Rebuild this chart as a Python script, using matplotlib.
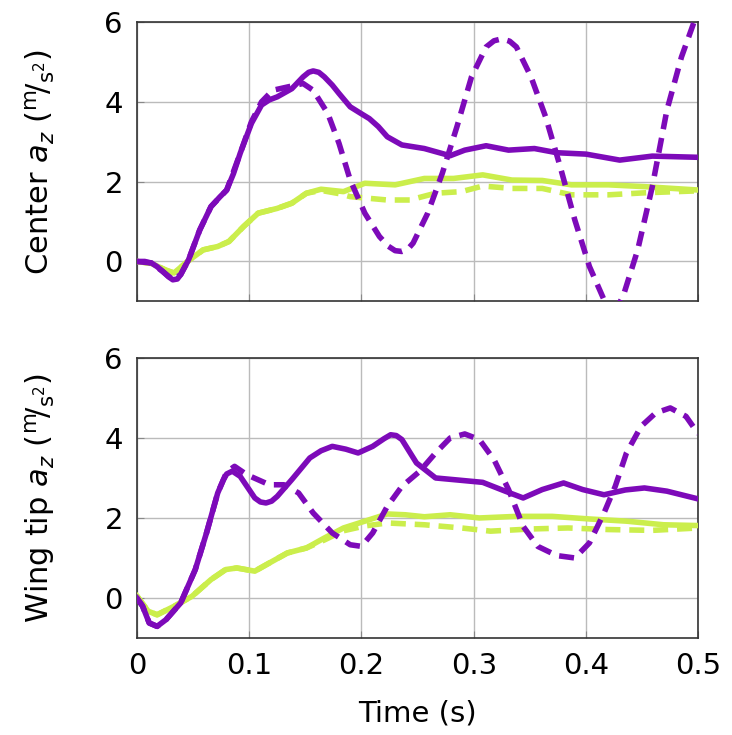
import numpy as np
import matplotlib
matplotlib.use('Agg')
import matplotlib.pyplot as plt

# ---- data ----
# top panel (center)
t_c_solid = [0, 0.007, 0.013, 0.018, 0.023, 0.028, 0.032, 0.036, 0.039, 0.046, 0.056, 0.066, 0.074, 0.080,
             0.086, 0.092, 0.102, 0.111, 0.118, 0.125, 0.138, 0.148, 0.153, 0.157, 0.162, 0.167, 0.174,
             0.180, 0.190, 0.200, 0.207, 0.215, 0.223, 0.236, 0.256, 0.270, 0.279, 0.292,
             0.311, 0.331, 0.354, 0.374, 0.400, 0.430, 0.459, 0.5]
a_c_solid = [0, 0.0, -0.04, -0.13, -0.25, -0.38, -0.46, -0.44, -0.33, 0.04, 0.79, 1.375, 1.62, 1.79,
             2.2, 2.71, 3.46, 3.92, 4.05, 4.125, 4.33, 4.625, 4.74, 4.775, 4.74, 4.625, 4.42,
             4.21, 3.875, 3.7, 3.58, 3.38, 3.125, 2.92, 2.83, 2.72, 2.65, 2.79,
             2.9, 2.79, 2.83, 2.725, 2.69, 2.54, 2.64, 2.61]
t_c_dash = [0, 0.013, 0.023, 0.032, 0.039, 0.046, 0.056, 0.066, 0.080, 0.092, 0.102, 0.111, 0.121,
            0.148, 0.157, 0.170, 0.180, 0.190, 0.203, 0.216, 0.224, 0.230, 0.236, 0.241, 0.246,
            0.259, 0.272, 0.285, 0.298, 0.311, 0.318, 0.325, 0.332, 0.338, 0.351, 0.364, 0.377,
            0.390, 0.403, 0.416, 0.421, 0.425, 0.429, 0.433, 0.446, 0.459, 0.472, 0.485, 0.5]
a_c_dash = [0, -0.04, -0.25, -0.46, -0.33, 0.04, 0.79, 1.375, 1.79, 2.71, 3.5, 4.0, 4.29,
            4.46, 4.29, 3.71, 2.96, 2.04, 1.21, 0.625, 0.38, 0.27, 0.25, 0.3, 0.46,
            1.21, 2.21, 3.375, 4.625, 5.375, 5.53, 5.58, 5.52, 5.375, 4.625, 3.625, 2.375,
            1.04, -0.125, -0.96, -1.08, -1.12, -1.08, -0.875, 0.29, 1.875, 3.79, 5.125, 6.3]
t_c_green = [0, 0.013, 0.026, 0.033, 0.046, 0.059, 0.072, 0.082, 0.095, 0.108, 0.125, 0.138, 0.151,
             0.164, 0.184, 0.203, 0.230, 0.256, 0.282, 0.308, 0.334, 0.361, 0.387, 0.420, 0.452, 0.5]
a_c_green = [0, -0.05, -0.22, -0.29, 0.02, 0.29, 0.375, 0.5, 0.875, 1.21, 1.33, 1.46, 1.71,
             1.81, 1.75, 1.96, 1.92, 2.08, 2.08, 2.17, 2.04, 2.03, 1.92, 1.92, 1.875, 1.79]
t_c_green_d = [0, 0.013, 0.026, 0.033, 0.046, 0.059, 0.072, 0.082, 0.095, 0.108, 0.125, 0.138, 0.151,
               0.164, 0.180, 0.190, 0.223, 0.243, 0.266, 0.289, 0.308, 0.334, 0.361, 0.387, 0.420,
               0.452, 0.5]
a_c_green_d = [0, -0.05, -0.22, -0.29, 0.02, 0.29, 0.375, 0.5, 0.875, 1.21, 1.33, 1.46, 1.71,
               1.78, 1.7, 1.625, 1.54, 1.54, 1.71, 1.75, 1.89, 1.83, 1.83, 1.67, 1.67, 1.72, 1.77]

# bottom panel (wing tip)
t_w_solid = [0, 0.005, 0.011, 0.018, 0.026, 0.039, 0.052, 0.062, 0.072, 0.077, 0.080, 0.085, 0.092,
             0.105, 0.110, 0.115, 0.120, 0.125, 0.138, 0.154, 0.164, 0.174, 0.186, 0.197, 0.210,
             0.220, 0.226, 0.231, 0.236, 0.249, 0.266, 0.289, 0.308, 0.328, 0.344, 0.361, 0.380,
             0.397, 0.416, 0.435, 0.452, 0.472, 0.5]
a_w_solid = [0, -0.2, -0.625, -0.71, -0.54, -0.125, 0.71, 1.625, 2.625, 2.95, 3.1, 3.17, 3.04,
             2.5, 2.4, 2.375, 2.42, 2.54, 2.96, 3.5, 3.68, 3.79, 3.72, 3.625, 3.79,
             3.98, 4.08, 4.06, 3.96, 3.375, 3.0, 2.94, 2.89, 2.67, 2.5, 2.71, 2.875,
             2.71, 2.58, 2.7, 2.75, 2.67, 2.475]
t_w_dash = [0, 0.005, 0.011, 0.018, 0.026, 0.039, 0.052, 0.062, 0.072, 0.080, 0.087, 0.098, 0.118,
            0.131, 0.144, 0.157, 0.174, 0.190, 0.200, 0.210, 0.223, 0.236, 0.252, 0.266, 0.279,
            0.292, 0.305, 0.318, 0.331, 0.344, 0.357, 0.374, 0.390, 0.403, 0.416, 0.426, 0.436,
            0.449, 0.462, 0.475, 0.489, 0.5]
a_w_dash = [0, -0.2, -0.625, -0.71, -0.54, -0.125, 0.71, 1.625, 2.625, 3.15, 3.29, 3.08, 2.83,
            2.83, 2.625, 2.125, 1.625, 1.33, 1.29, 1.625, 2.29, 2.79, 3.17, 3.625, 4.0,
            4.1, 3.96, 3.46, 2.71, 1.79, 1.29, 1.06, 1.0, 1.375, 2.125, 2.79, 3.625,
            4.29, 4.625, 4.75, 4.54, 4.1]
t_w_green = [0, 0.010, 0.018, 0.033, 0.049, 0.066, 0.079, 0.089, 0.105, 0.118, 0.134, 0.151, 0.167,
             0.184, 0.203, 0.223, 0.239, 0.256, 0.279, 0.305, 0.338, 0.370, 0.403, 0.436, 0.469, 0.5]
a_w_green = [0.05, -0.33, -0.42, -0.21, 0.04, 0.46, 0.71, 0.75, 0.67, 0.875, 1.125, 1.25, 1.5,
             1.75, 1.92, 2.1, 2.08, 2.03, 2.08, 2.0, 2.04, 2.04, 1.975, 1.92, 1.83, 1.81]
t_w_green_d = [0, 0.010, 0.018, 0.033, 0.049, 0.066, 0.079, 0.089, 0.105, 0.118, 0.134, 0.151, 0.167,
               0.184, 0.203, 0.223, 0.256, 0.289, 0.315, 0.351, 0.384, 0.420, 0.459, 0.5]
a_w_green_d = [0.05, -0.33, -0.42, -0.21, 0.04, 0.46, 0.71, 0.75, 0.67, 0.875, 1.125, 1.25, 1.45,
               1.68, 1.8, 1.875, 1.83, 1.75, 1.67, 1.725, 1.75, 1.71, 1.69, 1.75]

x_ticks = [0, 0.1, 0.2, 0.3, 0.4, 0.5]
x_ticklabels = ['0', '0.1', '0.2', '0.3', '0.4', '0.5']
y_ticks = [0, 2, 4, 6]

purple = '#7d0ab9'
green = '#cbee4c'

plt.rcParams['font.family'] = ['DejaVu Sans']
plt.rcParams['mathtext.fontset'] = 'dejavusans'


def draw(ax, series, ylabel):
    for t, a, col, ls in series:
        if ls == '--':
            ax.plot(t, a, color=col, lw=4.0, dashes=(2.7, 1.6), dash_capstyle='butt',
                    dash_joinstyle='round', zorder=3)
        else:
            ax.plot(t, a, color=col, lw=4.0, solid_joinstyle='round', zorder=3)
    ax.set_xlim(0, 0.5)
    ax.set_ylim(-1, 6)
    ax.set_xticks(x_ticks)
    ax.set_yticks(y_ticks)
    ax.grid(True, color='#bbbbbb', lw=1.0)
    ax.tick_params(direction='in', length=5, color='#888888', labelsize=21, pad=10)
    ax.set_ylabel(ylabel, fontsize=22)
    ax.yaxis.set_label_coords(-0.143, 0.5)
    for s in ax.spines.values():
        s.set_color('#333333')
        s.set_linewidth(1.2)


fig = plt.figure(figsize=(7.32, 7.35), dpi=100)
ax1 = fig.add_axes([0.187, 0.590, 0.767, 0.380])
ax2 = fig.add_axes([0.187, 0.132, 0.767, 0.381])

units = r'$\left(^{\mathrm{m}}\!/_{\mathrm{s}^{2}}\right)$'
draw(ax1, [(t_c_green_d, a_c_green_d, green, '--'),
           (t_c_green, a_c_green, green, '-'),
           (t_c_dash, a_c_dash, purple, '--'),
           (t_c_solid, a_c_solid, purple, '-')],
     'Center $a_z$ ' + units)
ax1.set_xticklabels([])

draw(ax2, [(t_w_green_d, a_w_green_d, green, '--'),
           (t_w_green, a_w_green, green, '-'),
           (t_w_dash, a_w_dash, purple, '--'),
           (t_w_solid, a_w_solid, purple, '-')],
     'Wing tip $a_z$ ' + units)
ax2.set_xticklabels(x_ticklabels)
ax2.set_xlabel('Time (s)', fontsize=21, labelpad=14)

fig.savefig('out.png', dpi=100)
